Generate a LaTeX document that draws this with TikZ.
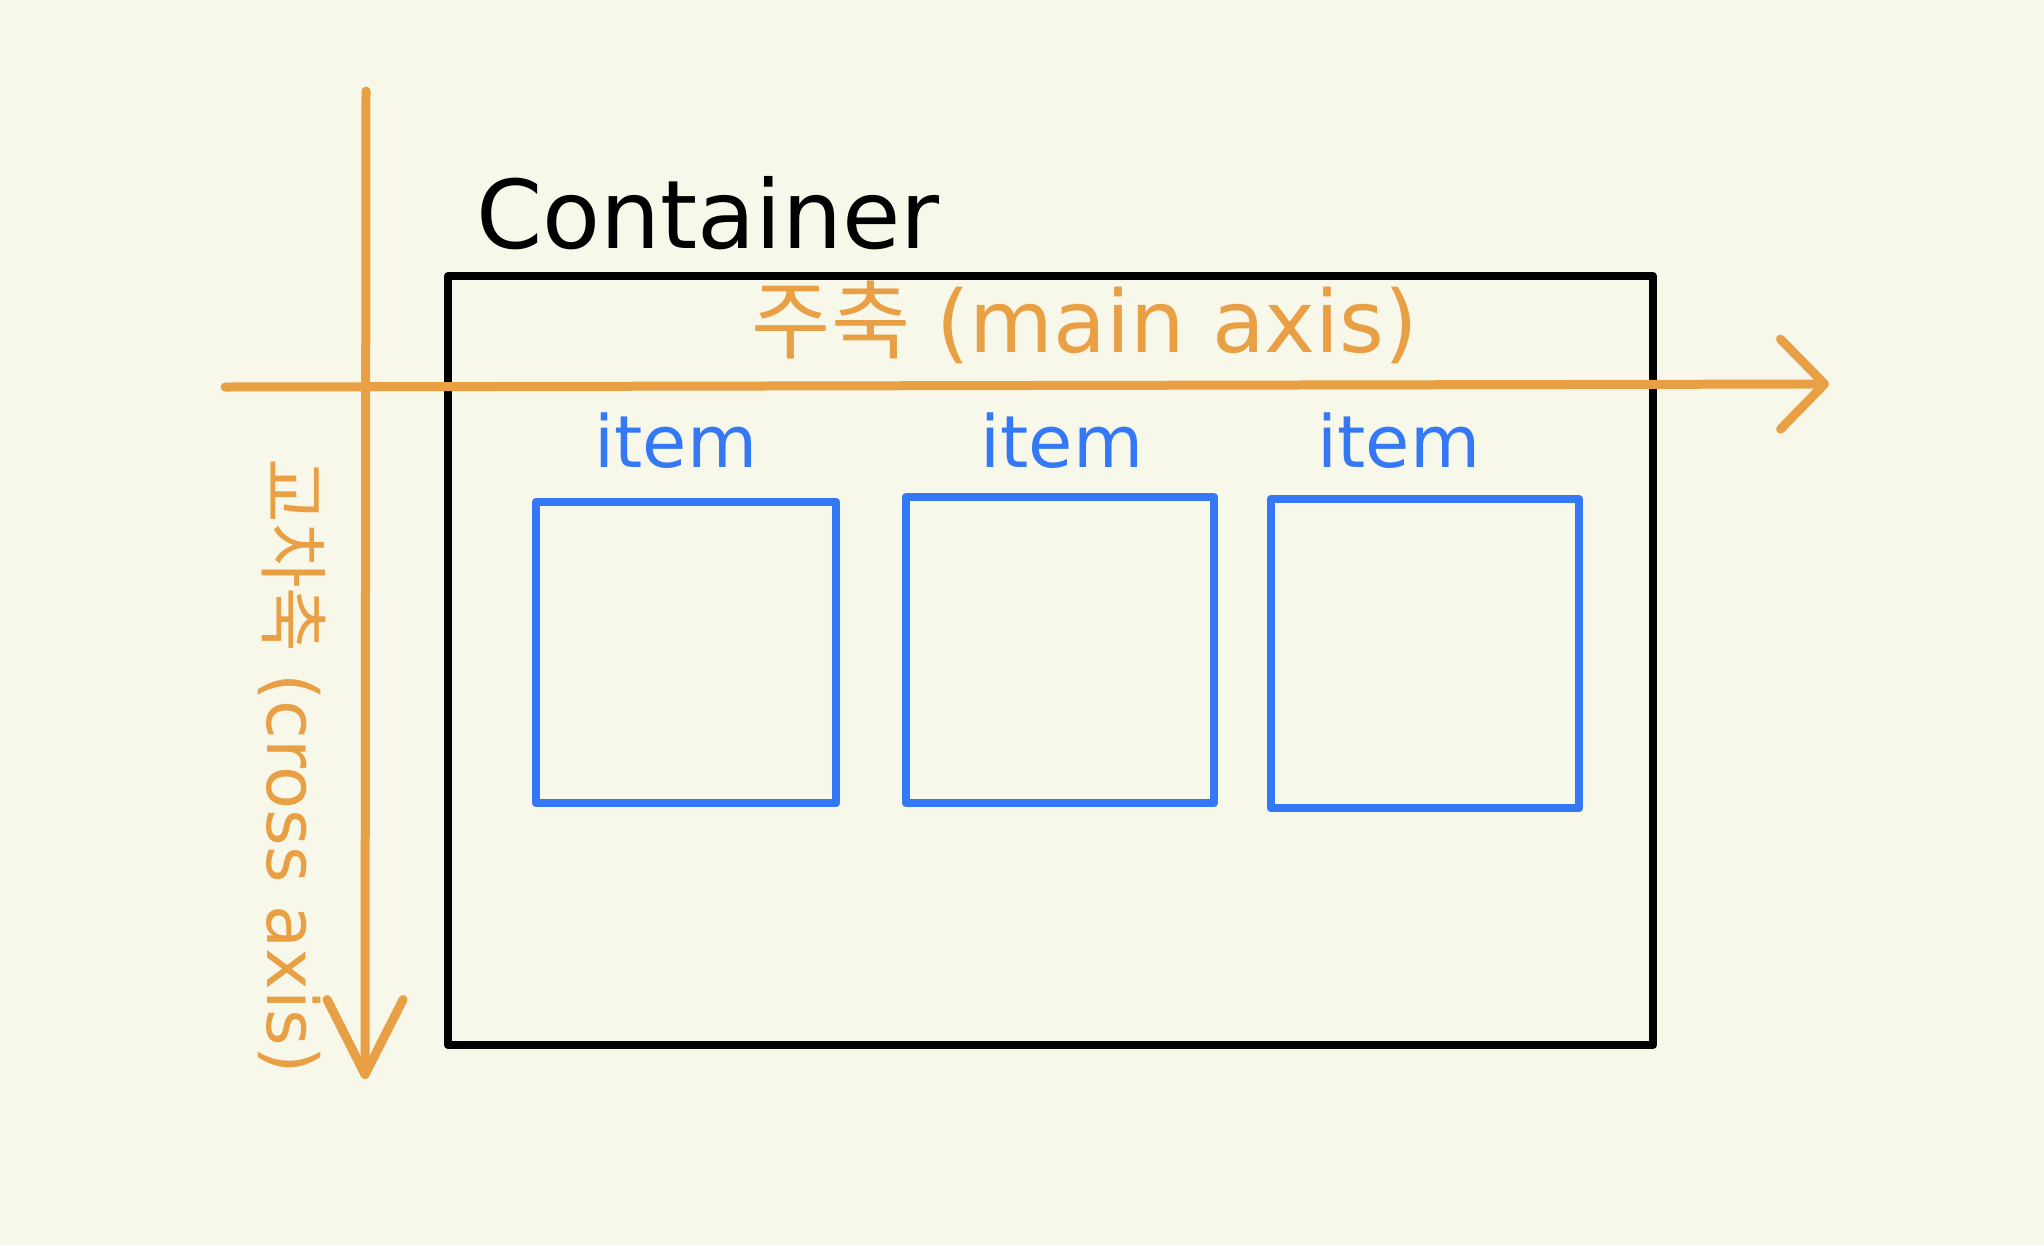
\documentclass[tikz,border=0pt]{standalone}
\usepackage{fontspec}
\setmainfont{DejaVu Sans}
\newfontfamily\krfont{Noto Sans CJK KR}
\usetikzlibrary{arrows.meta}
\definecolor{paper}{HTML}{F7F7EA}
\definecolor{axisorange}{HTML}{E9A044}
\definecolor{itemblue}{HTML}{3578F6}
\tikzset{
  axis/.style={axisorange, line width=0.18cm, line cap=round, line join=round},
  itembox/.style={draw=itemblue, line width=0.17cm, line join=round},
  itemlabel/.style={text=itemblue, font=\fontsize{41}{41}\selectfont, anchor=base},
  axislabel/.style={text=axisorange, font=\fontsize{49}{49}\selectfont},
}

\begin{document}
\begin{tikzpicture}[x=0.02cm, y=-0.02cm]
	\fill[paper] (0,0) rectangle (2044,1245);
	
	% container
	\draw[line width=0.16cm, line join=round] (448,276) rectangle (1653,1045);
	\node[anchor=base, font=\fontsize{54}{54}\selectfont] (containerlabel) at (708,248) {Container};
	
	% items
	\draw[itembox] (536,502) rectangle (836,803);
	\draw[itembox] (906,497) rectangle (1214,803);
	\draw[itembox] (1271,499) rectangle (1579,808);
	\node[itemlabel] (itemlabela) at (676,467) {item};
	\node[itemlabel] (itemlabelb) at (1062,467) {item};
	\node[itemlabel] (itemlabelc) at (1399,467) {item};
	
	% main axis
	\coordinate (mainstart) at (225,387);
	\coordinate (mainend) at (1829,384);
	\draw[axis, -{Straight Barb[round, length=0.88cm, width=1.8cm]}] (mainstart) -- (mainend);
	\node[axislabel, anchor=base] (mainlabel) at (1085,352) {{\krfont 주축}\hspace{0.3em}(main axis)};
	
	% cross axis
	\coordinate (crossstart) at (366,91);
	\coordinate (crossend) at (365,1079);
	\draw[axis, -{Straight Barb[round, length=1.5cm, width=1.52cm]}] (crossstart) -- (crossend);
	\node[axislabel, rotate=-90, font=\fontsize{40}{40}\selectfont] (crosslabel) at (292,766) {{\krfont 교차축}\hspace{0.3em}(cross axis)};
\end{tikzpicture}
\end{document}
